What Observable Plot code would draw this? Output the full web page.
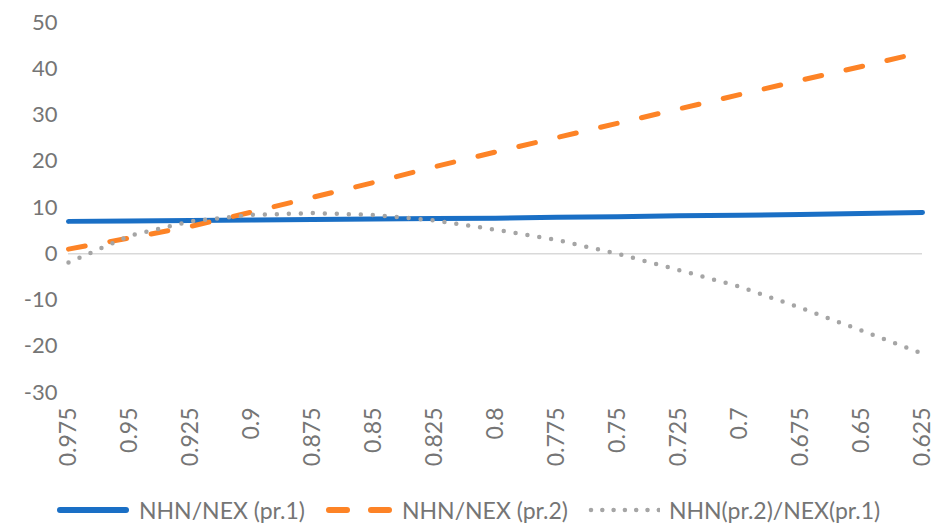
<!DOCTYPE html>
<html>
<head>
<meta charset="utf-8">
<script src="https://cdn.jsdelivr.net/npm/d3@7"></script>
<script src="https://cdn.jsdelivr.net/npm/@observablehq/plot@0.6"></script>
<style>
  body { margin: 0; background: #fff; font-family: Lato, "Open Sans", sans-serif; }
  #chart { width: 936px; }
  .legend { display: flex; justify-content: flex-start; align-items: center; height: 40px; padding-top: 10px; padding-left: 56px; font-size: 23px; color: #757575; font-family: Lato, sans-serif; box-sizing: content-box; }
  .legend .item { display: flex; align-items: center; margin-right: 20px; }
  .legend svg { margin-right: 9px; display: block; }
</style>
</head>
<body>
<div id="chart"></div>
<script>
const categories = ["0.975","0.95","0.925","0.9","0.875","0.85","0.825","0.8","0.775","0.75","0.725","0.7","0.675","0.65","0.625"];
const seriesNames = ["NHN/NEX (pr.1)", "NHN/NEX (pr.2)", "NHN(pr.2)/NEX(pr.1)"];
const pr1 = [7.0, 7.1, 7.2, 7.3, 7.4, 7.5, 7.6, 7.7, 7.9, 8.0, 8.2, 8.3, 8.5, 8.7, 8.9];
const pr2 = [1.0, 3.4, 5.9, 9.0, 12.2, 15.4, 18.8, 22.0, 25.1, 28.2, 31.3, 34.4, 37.5, 40.5, 43.6];
const ratio = [-1.9, 3.9, 7.0, 8.4, 8.8, 8.4, 7.2, 5.2, 3.0, 0.0, -3.5, -7.1, -11.7, -16.6, -21.6];
const yTicks = [-30, -20, -10, 0, 10, 20, 30, 40, 50];

const colors = ["#1a6fc5", "#fd8326", "#a5a5a5"];
const styles = [
  {strokeWidth: 5, strokeDasharray: null},
  {strokeWidth: 5, strokeDasharray: "17,25"},
  {strokeWidth: 4.5, strokeDasharray: "0,12"}
];
const allSeries = [pr1, pr2, ratio];
const data = allSeries.map((vals, s) => categories.map((c, i) => ({cat: c, value: vals[i], series: seriesNames[s]})));

const marks = [
  Plot.ruleY([0], {stroke: "#d9d9d9", strokeWidth: 1.5}),
  ...data.map((d, s) => Plot.line(d, {
    x: "cat", y: "value",
    stroke: colors[s],
    strokeWidth: styles[s].strokeWidth,
    strokeDasharray: styles[s].strokeDasharray,
    strokeLinecap: "round",
    strokeLinejoin: "round"
  })),
  Plot.axisY({ticks: yTicks, tickFormat: d => String(d), tickSize: 0, tickPadding: 11, fontSize: 22, color: "#757575", label: null}),
  Plot.axisX({tickRotate: -90, tickSize: 0, tickPadding: 15, fontSize: 23, color: "#757575", label: null})
];

const chart = Plot.plot({
  width: 936,
  height: 480,
  marginLeft: 68,
  marginRight: 14,
  marginTop: 22,
  marginBottom: 88,
  style: {fontFamily: "Lato, sans-serif", color: "#757575", background: "#fff"},
  x: {type: "point", domain: categories, padding: 0},
  y: {domain: [-30, 50]},
  marks
});
document.getElementById("chart").appendChild(chart);

const swatches = [
  {w: 74, x1: 4, x2: 70, width: 6, dash: null},
  {w: 68, x1: 4, x2: 64, width: 6, dash: "18,24"},
  {w: 72, x1: 3, x2: 71, width: 4.5, dash: "0,11.3"}
];
const legend = document.createElement("div");
legend.className = "legend";
seriesNames.forEach((name, s) => {
  const item = document.createElement("div");
  item.className = "item";
  const ns = "http://www.w3.org/2000/svg";
  const sw = document.createElementNS(ns, "svg");
  const cfg = swatches[s];
  sw.setAttribute("width", cfg.w); sw.setAttribute("height", 12);
  const ln = document.createElementNS(ns, "line");
  ln.setAttribute("x1", cfg.x1); ln.setAttribute("x2", cfg.x2); ln.setAttribute("y1", 6); ln.setAttribute("y2", 6);
  ln.setAttribute("stroke", colors[s]);
  ln.setAttribute("stroke-width", cfg.width);
  ln.setAttribute("stroke-linecap", "round");
  if (cfg.dash) ln.setAttribute("stroke-dasharray", cfg.dash);
  sw.appendChild(ln);
  item.appendChild(sw);
  const t = document.createElement("span");
  t.textContent = name;
  item.appendChild(t);
  legend.appendChild(item);
});
document.getElementById("chart").appendChild(legend);
</script>
</body>
</html>
